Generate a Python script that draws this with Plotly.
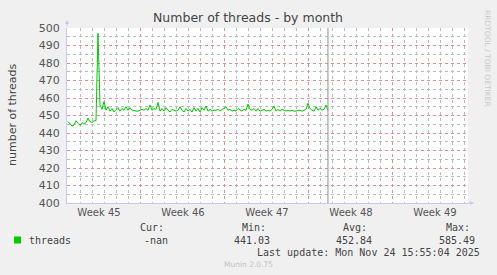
import plotly.graph_objects as go
import pandas as pd

# ---- data ----
series_name = "threads"
series_start = "2025-11-03 00:00"
step = "4h"
threads = [
    446.5, 445, 444, 444.5, 447, 445.5, 444.5, 446, 445, 446,
    448.5, 446.5, 446, 447, 447, 497, 456, 453.5, 458, 453,
    455, 452.5, 454, 452, 453.5, 454.5, 452.5, 454, 453, 455,
    453, 454.5, 453, 453, 452.5, 452.5, 453, 453.5, 453, 454,
    453, 456, 453, 454, 453.5, 457.5, 452.5, 454, 452.5, 454.5,
    453, 452, 453.5, 453, 452.5, 453, 455, 453, 452, 454,
    452.5, 453.5, 452, 454.5, 452.5, 454, 452, 454.5, 453, 455.5,
    452.5, 453.5, 452.5, 453, 453, 453.5, 452.5, 453.5, 454, 455,
    453, 453.5, 452.5, 453, 452.5, 454, 453, 452.5, 453.5, 453,
    456.5, 453.5, 453, 454, 452.5, 454, 452.5, 453, 453.5, 452.5,
    453, 452.5, 453.5, 455.5, 452.5, 453.5, 452.5, 453.5, 453, 452.5,
    453, 452.5, 453, 452.5, 452.5, 453, 453, 452.5, 453, 453.5,
    457, 454, 453, 452.5, 455, 453, 454, 453, 453.5, 456,
    453,
]
week_labels = ["Week 45", "Week 46", "Week 47", "Week 48", "Week 49"]
week_label_pos = ["2025-11-05 14:00", "2025-11-12 14:00", "2025-11-19 14:00",
                  "2025-11-26 14:00", "2025-12-03 14:00"]
x_range = ["2025-11-02 22:00", "2025-12-06 08:00"]
y_range = [400, 500]
y_minor_vals = [405, 415, 425, 435, 445, 455, 465, 475, 485, 495]
last_update = "2025-11-24 15:55:04"
stat_headers = ["Cur:", "Min:", "Avg:", "Max:"]
stat_values = ["-nan", "441.03", "452.84", "585.49"]

times = pd.date_range(series_start, periods=len(threads), freq=step)

# ---- layout geometry (pixels) ----
W, H = 497, 275
L, R, T, B = 67, 468, 28, 203
PW, PH = R - L, B - T

def px(x):
    return (x - L) / PW

def py(y):
    return (B - y) / PH

GREEN = "#00cc00"
MAJ = "#e09090"
MIN = "#bbbbbb"
AXC = "#c8c8f0"
TXT = "#555555"
DASH = "dot"

fig = go.Figure()
fig.add_trace(go.Scatter(x=times, y=threads, mode="lines",
                         line=dict(color=GREEN, width=1), hoverinfo="skip",
                         showlegend=False))
# invisible trace for label axis
fig.add_trace(go.Scatter(x=[times[0]], y=[threads[0]], xaxis="x2", mode="markers",
                         marker=dict(opacity=0), showlegend=False, hoverinfo="skip"))
# invisible trace for minor y grid axis
fig.add_trace(go.Scatter(x=[times[0]], y=[threads[0]], yaxis="y2", mode="markers",
                         marker=dict(opacity=0), showlegend=False, hoverinfo="skip"))

fig.update_layout(
    width=W, height=H,
    margin=dict(l=L, r=W - R, t=T, b=H - B, pad=0),
    paper_bgcolor="#f0f0f0", plot_bgcolor="#ffffff",
    font=dict(family="DejaVu Sans", color=TXT, size=11),
    xaxis=dict(type="date", range=x_range, showticklabels=False, ticks="",
               tick0="2025-11-02", dtick=7 * 86400000,
               showgrid=True, gridcolor=MAJ, griddash=DASH, gridwidth=1,
               minor=dict(tick0="2025-11-02", dtick=86400000, showgrid=True,
                          gridcolor=MIN, griddash=DASH, gridwidth=1),
               showline=True, linecolor=AXC, linewidth=1, zeroline=False,
               layer="below traces"),
    xaxis2=dict(type="date", range=x_range, overlaying="x", anchor="y", side="bottom",
                tickmode="array", tickvals=week_label_pos, ticktext=week_labels,
                showgrid=False, ticks="", showline=False, zeroline=False,
                tickfont=dict(size=10, color=TXT), ticklabelstandoff=2),
    yaxis=dict(range=y_range, tickmode="linear", tick0=400, dtick=10,
               showgrid=True, gridcolor=MAJ, griddash=DASH, gridwidth=1,
               showline=True, linecolor=AXC, linewidth=1, zeroline=False,
               ticks="", ticklabelstandoff=4, tickfont=dict(size=11, color=TXT)),
    yaxis2=dict(range=y_range, overlaying="y", side="left", anchor="x",
                tickmode="array", tickvals=y_minor_vals, showticklabels=False,
                ticks="", showgrid=True, gridcolor=MIN, griddash=DASH, gridwidth=1,
                zeroline=False, showline=False),
    showlegend=False,
)

# now marker
fig.add_shape(type="line", xref="x", yref="paper", x0=last_update, x1=last_update,
              y0=0, y1=1, line=dict(color="#909090", width=1))

# axis arrows
fig.add_annotation(xref="paper", yref="paper", x=0, y=py(20), ax=0, ay=8,
                   showarrow=True, arrowhead=2, arrowsize=0.8, arrowwidth=1,
                   arrowcolor=AXC, text="")
fig.add_annotation(xref="paper", yref="paper", x=px(474), y=0, ax=-8, ay=0,
                   showarrow=True, arrowhead=2, arrowsize=0.8, arrowwidth=1,
                   arrowcolor=AXC, text="")

# title
fig.add_annotation(xref="paper", yref="paper", x=px(248), y=py(18),
                   text="Number of threads - by month", showarrow=False,
                   font=dict(size=12.5, color="#444444"),
                   xanchor="center", yanchor="middle")
# y axis title
fig.add_annotation(xref="paper", yref="paper", x=px(12), y=py(115),
                   text="number of threads", showarrow=False, textangle=-90,
                   font=dict(size=11, color="#444444"),
                   xanchor="center", yanchor="middle")
# rrdtool watermark
fig.add_annotation(xref="paper", yref="paper", x=px(487), y=py(58),
                   text="RRDTOOL / TOBI OETIKER", showarrow=False, textangle=90,
                   font=dict(size=7.5, color="#c8c8c8"),
                   xanchor="center", yanchor="middle")

MONO = dict(family="DejaVu Sans Mono", size=10, color="#444444")
# legend square
fig.add_shape(type="rect", xref="paper", yref="paper", x0=px(14), x1=px(21),
              y0=py(243.5), y1=py(236.5), fillcolor=GREEN, line=dict(width=0))
fig.add_annotation(xref="paper", yref="paper", x=px(27), y=py(240), text=series_name,
                   showarrow=False, font=MONO, xanchor="left", yanchor="middle")
hdr_centers = [152, 254, 355, 458]
val_rights = [170, 272, 374, 477]
for h, c in zip(stat_headers, hdr_centers):
    fig.add_annotation(xref="paper", yref="paper", x=px(c), y=py(227), text=h,
                       showarrow=False, font=MONO, xanchor="center", yanchor="middle")
for v, r in zip(stat_values, val_rights):
    fig.add_annotation(xref="paper", yref="paper", x=px(r), y=py(240), text=v,
                       showarrow=False, font=MONO, xanchor="right", yanchor="middle")
fig.add_annotation(xref="paper", yref="paper", x=px(482), y=py(252),
                   text="Last update: Mon Nov 24 15:55:04 2025",
                   showarrow=False, font=MONO, xanchor="right", yanchor="middle")
fig.add_annotation(xref="paper", yref="paper", x=px(248), y=py(264),
                   text="Munin 2.0.75", showarrow=False,
                   font=dict(family="DejaVu Sans", size=7.5, color="#c0c0c0"),
                   xanchor="center", yanchor="middle")

fig.write_html("out.html", config={"displayModeBar": False})
